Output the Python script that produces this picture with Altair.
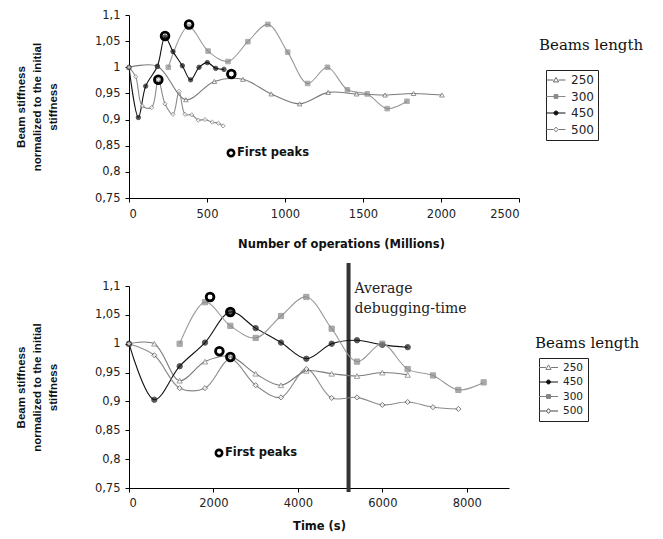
import altair as alt
import pandas as pd

# ---------------- top panel: stiffness vs number of operations (millions) ----------------
top_order = ["250", "300", "450", "500"]
top_250_x = [0, 182, 365, 547, 730, 912, 1094, 1277, 1459, 1641, 1824, 2006]
top_250_y = [1.000, 1.002, 0.938, 0.973, 0.977, 0.949, 0.930, 0.952, 0.949, 0.947, 0.950, 0.947]
top_300_x = [252, 380, 507, 635, 762, 890, 1017, 1145, 1272, 1400, 1527, 1655, 1782]
top_300_y = [1.000, 1.078, 1.031, 1.011, 1.049, 1.082, 1.029, 0.969, 1.000, 0.957, 0.949, 0.921, 0.935]
top_450_x = [0, 60, 107, 182, 231, 282, 342, 395, 449, 502, 556, 609]
top_450_y = [1.000, 0.904, 0.964, 1.002, 1.058, 1.030, 1.003, 0.976, 1.000, 1.009, 0.998, 0.996]
top_500_x = [0, 43, 85, 145, 188, 231, 282, 321, 359, 402, 444, 487, 534, 573, 603]
top_500_y = [1.000, 0.982, 0.926, 0.923, 0.976, 0.930, 0.910, 0.954, 0.910, 0.909, 0.899, 0.900, 0.895, 0.893, 0.888]
top_peak_x = [231, 385, 188, 656]
top_peak_y = [1.060, 1.082, 0.976, 0.987]
top_x_ticks = [0, 500, 1000, 1500, 2000, 2500]

# ---------------- bottom panel: stiffness vs time (s) ----------------
bot_order = ["250", "450", "300", "500"]
bot_250_x = [0, 600, 1200, 1800, 2400, 3000, 3600, 4200, 4800, 5400, 6000, 6600]
bot_250_y = [1.000, 1.000, 0.936, 0.969, 0.978, 0.948, 0.928, 0.953, 0.948, 0.944, 0.950, 0.946]
bot_450_x = [0, 600, 1200, 1800, 2400, 3000, 3600, 4200, 4800, 5400, 6000, 6600]
bot_450_y = [1.000, 0.903, 0.961, 1.002, 1.055, 1.027, 1.002, 0.974, 1.000, 1.006, 0.998, 0.994]
bot_300_x = [1200, 1800, 2400, 3000, 3600, 4200, 4800, 5400, 6000, 6600, 7200, 7800, 8400]
bot_300_y = [1.000, 1.072, 1.031, 1.010, 1.048, 1.081, 1.026, 0.969, 1.000, 0.956, 0.945, 0.920, 0.933]
bot_500_x = [0, 600, 1200, 1800, 2400, 3000, 3600, 4200, 4800, 5400, 6000, 6600, 7200, 7800]
bot_500_y = [1.000, 0.980, 0.923, 0.923, 0.973, 0.928, 0.907, 0.956, 0.906, 0.907, 0.894, 0.899, 0.890, 0.887]
bot_peak_x = [1920, 2400, 2141, 2400]
bot_peak_y = [1.081, 1.055, 0.987, 0.977]
bot_x_ticks = [0, 2000, 4000, 6000, 8000]
debug_time = [5200]

y_ticks = [0.75, 0.8, 0.85, 0.9, 0.95, 1.0, 1.05, 1.1]
y_title = ["Beam stiffness", "normalized to the initial", "stiffness"]


def long_df(series):
    rows = []
    for name, (xs, ys) in series.items():
        for i, (a, b) in enumerate(zip(xs, ys)):
            rows.append({"x": a, "y": b, "s": name, "i": i})
    return pd.DataFrame(rows)


top_df = long_df({"250": (top_250_x, top_250_y), "300": (top_300_x, top_300_y),
                  "450": (top_450_x, top_450_y), "500": (top_500_x, top_500_y)})
bot_df = long_df({"250": (bot_250_x, bot_250_y), "450": (bot_450_x, bot_450_y),
                  "300": (bot_300_x, bot_300_y), "500": (bot_500_x, bot_500_y)})
top_peaks = pd.DataFrame({"x": top_peak_x, "y": top_peak_y})
bot_peaks = pd.DataFrame({"x": bot_peak_x, "y": bot_peak_y})

# legend symbols: short line + marker
seg = "M-2,0H-0.55M0.55,0H2"
path = {
    "250": seg + "M0,-0.55L0.55,0.4L-0.55,0.4Z",
    "300": "M-2,0H2M-0.4,-0.4H0.4V0.4H-0.4Z",
    "450": "M-2,0H2M-0.42,0A0.42,0.42,0,1,1,0.42,0A0.42,0.42,0,1,1,-0.42,0Z",
    "500": seg + "M0,-0.5L0.45,0L0,0.5L-0.45,0Z",
}
shape = {"250": "triangle-up", "300": "square", "450": "circle", "500": "diamond"}
fill = {"250": "white", "300": "#8a8a8a", "450": "#111111", "500": "white"}


def panel(df, peaks, order, width, height, xdom, xticks, xtitle, xtitle_x, xtitle_pad,
          lab_pad, line_col, stroke_col, sizes, leg_x, leg_y, leg_font, leg_row,
          bl_x, bl_y, fp_x, fp_y, extra=None):
    xs = alt.Scale(domain=xdom, nice=False, zero=False)
    ys = alt.Scale(domain=[0.75, 1.1], nice=False, zero=False)
    xaxis = alt.Axis(values=xticks, tickCount=20, format="d", grid=False, domainColor="black",
                     tickColor="black", tickSize=4, labelFont="DejaVu Sans", labelFontSize=11.5,
                     labelColor="#222", labelPadding=lab_pad, labelOverlap=False, title=xtitle,
                     titleFont="DejaVu Sans", titleFontSize=11.5, titleFontWeight="bold",
                     titleColor="#111", titlePadding=xtitle_pad,
                     **({"titleX": xtitle_x} if xtitle_x is not None else {}))
    yaxis = alt.Axis(values=y_ticks, tickCount=20, grid=False, domainColor="black", tickColor="black",
                     tickSize=4, labelFont="DejaVu Sans", labelFontSize=11.5, labelColor="#222",
                     labelPadding=5, labelOverlap=False,
                     labelExpr="replace(format(datum.value, '.3~g'), '.', ',')",
                     title=y_title, titleFont="Liberation Sans", titleFontSize=11.5,
                     titleFontWeight="bold", titleColor="#111", titleLineHeight=16,
                     titlePadding=36)
    base = alt.Chart(df)
    lines = base.mark_line(interpolate="catmull-rom", strokeWidth=1.1).encode(
        x=alt.X("x:Q", scale=xs, axis=xaxis),
        y=alt.Y("y:Q", scale=ys, axis=yaxis),
        color=alt.Color("s:N", scale=alt.Scale(domain=order, range=[line_col[k] for k in order]), legend=None),
        order="i:Q",
    )
    pts = base.mark_point(filled=True, strokeWidth=1).encode(
        x="x:Q", y="y:Q",
        shape=alt.Shape("s:N", scale=alt.Scale(domain=order, range=[shape[k] for k in order]), legend=None),
        fill=alt.Fill("s:N", scale=alt.Scale(domain=order, range=[fill[k] for k in order]), legend=None),
        stroke=alt.Stroke("s:N", scale=alt.Scale(domain=order, range=[stroke_col[k] for k in order]), legend=None),
        size=alt.Size("s:N", scale=alt.Scale(domain=order, range=[sizes[k] for k in order]), legend=None),
    )
    leg = dict(orient="none", legendX=leg_x, legendY=leg_y, title=None, strokeColor="#222",
               fillColor="white", padding=4, cornerRadius=0, labelFont="DejaVu Sans",
               labelFontSize=leg_font, labelColor="#222", symbolSize=90, symbolStrokeWidth=1,
               symbolOpacity=1, rowPadding=leg_row, labelOffset=9)
    legend_layer = base.mark_point(filled=True, opacity=0).encode(
        x="x:Q", y="y:Q",
        shape=alt.Shape("s:N", scale=alt.Scale(domain=order, range=[path[k] for k in order]), legend=alt.Legend(**leg)),
        fill=alt.Fill("s:N", scale=alt.Scale(domain=order, range=[fill[k] for k in order]), legend=alt.Legend(**leg)),
        stroke=alt.Stroke("s:N", scale=alt.Scale(domain=order, range=[stroke_col[k] for k in order]), legend=alt.Legend(**leg)),
    )
    rings = alt.Chart(peaks).mark_point(shape="circle", filled=False, stroke="black",
                                         strokeWidth=2.8, size=60, opacity=1).encode(x="x:Q", y="y:Q")
    one = pd.DataFrame({"t": ["First peaks"]})
    fp_ring = alt.Chart(one).mark_point(shape="circle", filled=False, stroke="black",
                                        strokeWidth=2.6, size=40, opacity=1).encode(
        x=alt.value(fp_x), y=alt.value(fp_y))
    fp_text = alt.Chart(one).mark_text(align="left", baseline="middle", font="DejaVu Sans",
                                       fontSize=11.5, fontWeight="bold", color="#111").encode(
        x=alt.value(fp_x + 6), y=alt.value(fp_y), text="t:N")
    bl = alt.Chart(pd.DataFrame({"t": ["Beams length"]})).mark_text(
        align="left", baseline="middle", font="DejaVu Serif", fontSize=15, color="#111").encode(
        x=alt.value(bl_x), y=alt.value(bl_y), text="t:N")
    layers = [lines, pts, rings, fp_ring, fp_text, bl, legend_layer]
    if extra:
        layers = extra + layers
    return alt.layer(*layers).resolve_scale(
        shape="independent", fill="independent", stroke="independent", size="independent"
    ).properties(width=width, height=height)


top = panel(
    top_df, top_peaks, top_order, 390, 183, [0, 2500], top_x_ticks,
    "Number of operations (Millions)", 212, 19, 6,
    {"250": "#7a7a7a", "300": "#9a9a9a", "450": "#111111", "500": "#8a8a8a"},
    {"250": "#666666", "300": "#8a8a8a", "450": "#111111", "500": "#777777"},
    {"250": 22, "300": 18, "450": 20, "500": 22},
    417, 55, 12, 4.5, 410, 30, 102, 138,
)

dbg = pd.DataFrame({"x": debug_time, "t": [["Average", "debugging-time"]]})
rule = alt.Chart(dbg).mark_rule(color="#333333", strokeWidth=4).encode(
    x="x:Q", y=alt.value(-23), y2=alt.value(206))
note = alt.Chart(dbg).mark_text(align="left", baseline="alphabetic", font="DejaVu Serif",
                                fontSize=14, color="#222", lineHeight=20, dx=6).encode(
    x="x:Q", y=alt.value(7), text="t")

bottom = panel(
    bot_df, bot_peaks, bot_order, 380, 202, [0, 9000], bot_x_ticks,
    "Time (s)", None, 12, 5,
    {"250": "#9a9a9a", "300": "#9a9a9a", "450": "#111111", "500": "#333333"},
    {"250": "#777777", "300": "#7f7f7f", "450": "#111111", "500": "#444444"},
    {"250": 30, "300": 38, "450": 26, "500": 26},
    410, 72, 10.5, 3.5, 406, 57, 90, 167, extra=[rule, note],
)

chart = alt.vconcat(top, bottom, spacing=11).properties(
    padding={"left": 7, "top": 1, "right": 5, "bottom": 5}
).configure_view(stroke=None)

chart.save("out.html", embed_options={"renderer": "svg", "actions": False})
